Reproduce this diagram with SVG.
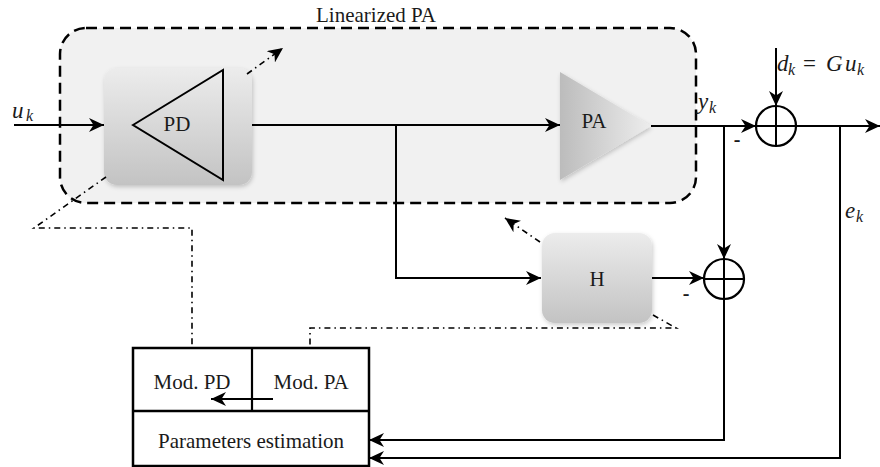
<svg xmlns="http://www.w3.org/2000/svg" width="880" height="467" viewBox="0 0 880 467">
<defs>
<style>
.ln{fill:none;stroke:#000;stroke-width:2}
.dd{fill:none;stroke:#000;stroke-width:1.6;stroke-dasharray:6 4 1.5 4}
.t{font-family:"Liberation Serif","Times New Roman",serif;font-size:21px;fill:#1a1a1a;text-anchor:middle}
.m{font-family:"Liberation Serif","Times New Roman",serif;font-style:italic;font-size:23px;fill:#1a1a1a}
.s{font-size:16px}
</style>
<marker id="ar" viewBox="0 0 15 14" refX="15" refY="7" markerWidth="15" markerHeight="14" markerUnits="userSpaceOnUse" orient="auto">
<path d="M0,0 L15,7 L0,14 L4.5,7 Z" fill="#000"/>
</marker>
<linearGradient id="gb" x1="0" y1="0" x2="0" y2="1">
<stop offset="0" stop-color="#ececec"/>
<stop offset="1" stop-color="#c3c3c3"/>
</linearGradient>
<linearGradient id="gt" x1="0" y1="0" x2="1" y2="0">
<stop offset="0" stop-color="#bcbcbc"/>
<stop offset="1" stop-color="#ededed"/>
</linearGradient>
<filter id="sh" x="-10%" y="-10%" width="125%" height="125%">
<feDropShadow dx="1" dy="2" stdDeviation="2" flood-color="#000" flood-opacity="0.2"/>
</filter>
</defs>
<rect width="880" height="467" fill="#fff"/>

<g id="linearized-pa">
<rect x="60" y="28" width="636" height="175" rx="26" ry="26" fill="#f1f1f1" stroke="#000" stroke-width="2.5" stroke-dasharray="11 6"/>
<text class="t" x="376" y="22">Linearized PA</text>
</g>

<g id="pd">
<rect x="104" y="68" width="148" height="117" rx="13" ry="13" fill="url(#gb)" filter="url(#sh)"/>
<polygon points="133,125 223,70 223,180" fill="none" stroke="#000" stroke-width="2"/>
<text class="t" x="177" y="131">PD</text>
</g>

<g id="pa">
<polygon points="560,72 651,126 560,180" fill="url(#gt)" filter="url(#sh)"/>
<text class="t" x="594" y="128">PA</text>
</g>

<g id="h">
<rect x="542" y="233" width="110" height="90" rx="13" ry="13" fill="url(#gb)" filter="url(#sh)"/>
<text class="t" x="597" y="286">H</text>
</g>

<g id="sum-top">
<circle cx="776" cy="126" r="20" fill="none" stroke="#000" stroke-width="2.2"/>
<line x1="756" y1="126" x2="796" y2="126" stroke="#000" stroke-width="2"/>
<line x1="776" y1="106" x2="776" y2="146" stroke="#000" stroke-width="2"/>
</g>

<g id="sum-bottom">
<circle cx="724" cy="279" r="20" fill="none" stroke="#000" stroke-width="2.2"/>
<line x1="704" y1="279" x2="744" y2="279" stroke="#000" stroke-width="2"/>
<line x1="724" y1="259" x2="724" y2="299" stroke="#000" stroke-width="2"/>
</g>

<g id="estimator">
<rect x="133" y="348" width="236" height="118" fill="#fff" stroke="#000" stroke-width="2.5"/>
<line x1="133" y1="411" x2="369" y2="411" stroke="#000" stroke-width="2.5"/>
<line x1="252" y1="348" x2="252" y2="411" stroke="#000" stroke-width="2.2"/>
<text class="t" x="192" y="389">Mod. PD</text>
<text class="t" x="311" y="389">Mod. PA</text>
<text class="t" x="251" y="448">Parameters estimation</text>
<line x1="273" y1="399" x2="211" y2="399" class="ln" marker-end="url(#ar)"/>
</g>

<g id="labels">
<text class="m" x="12" y="118">u<tspan class="s" x="26" y="121">k</tspan></text>
<text class="m" x="698" y="109">y<tspan class="s" x="709" y="113">k</tspan></text>
<text class="m" x="777" y="71">d<tspan class="s" x="788" y="75">k</tspan><tspan x="803" y="71" style="font-style:normal">=</tspan><tspan x="826" y="71">G</tspan><tspan x="845" y="71">u</tspan><tspan class="s" x="857" y="75">k</tspan></text>
<text class="m" x="845" y="218">e<tspan class="s" x="856" y="222">k</tspan></text>
<text class="t" x="737" y="146" style="font-size:20px;font-weight:bold">-</text>
<text class="t" x="686" y="300" style="font-size:20px;font-weight:bold">-</text>
</g>

<g id="connectors">
<line x1="14" y1="125" x2="104" y2="125" class="ln" marker-end="url(#ar)"/>
<line x1="252" y1="125" x2="560" y2="125" class="ln" marker-end="url(#ar)"/>
<polyline points="396,125 396,278 541,278" class="ln" marker-end="url(#ar)"/>
<line x1="651" y1="126" x2="756" y2="126" class="ln" marker-end="url(#ar)"/>
<line x1="776" y1="48" x2="776" y2="106" class="ln" marker-end="url(#ar)"/>
<line x1="796" y1="126" x2="880" y2="126" class="ln" marker-end="url(#ar)"/>
<line x1="652" y1="278" x2="704" y2="278" class="ln" marker-end="url(#ar)"/>
<line x1="724" y1="126" x2="724" y2="259" class="ln" marker-end="url(#ar)"/>
<polyline points="724,299 724,440 369,440" class="ln" marker-end="url(#ar)"/>
<polyline points="840,126 840,458 369,458" class="ln" marker-end="url(#ar)"/>
<polyline points="106,177 34,228 192,228 192,348" class="dd"/>
<line x1="247" y1="74" x2="283" y2="48" class="dd" marker-end="url(#ar)"/>
<polyline points="653,315 676,328 310,328 310,348" class="dd"/>
<line x1="540" y1="242" x2="505" y2="218" class="dd" marker-end="url(#ar)"/>
</g>
</svg>
